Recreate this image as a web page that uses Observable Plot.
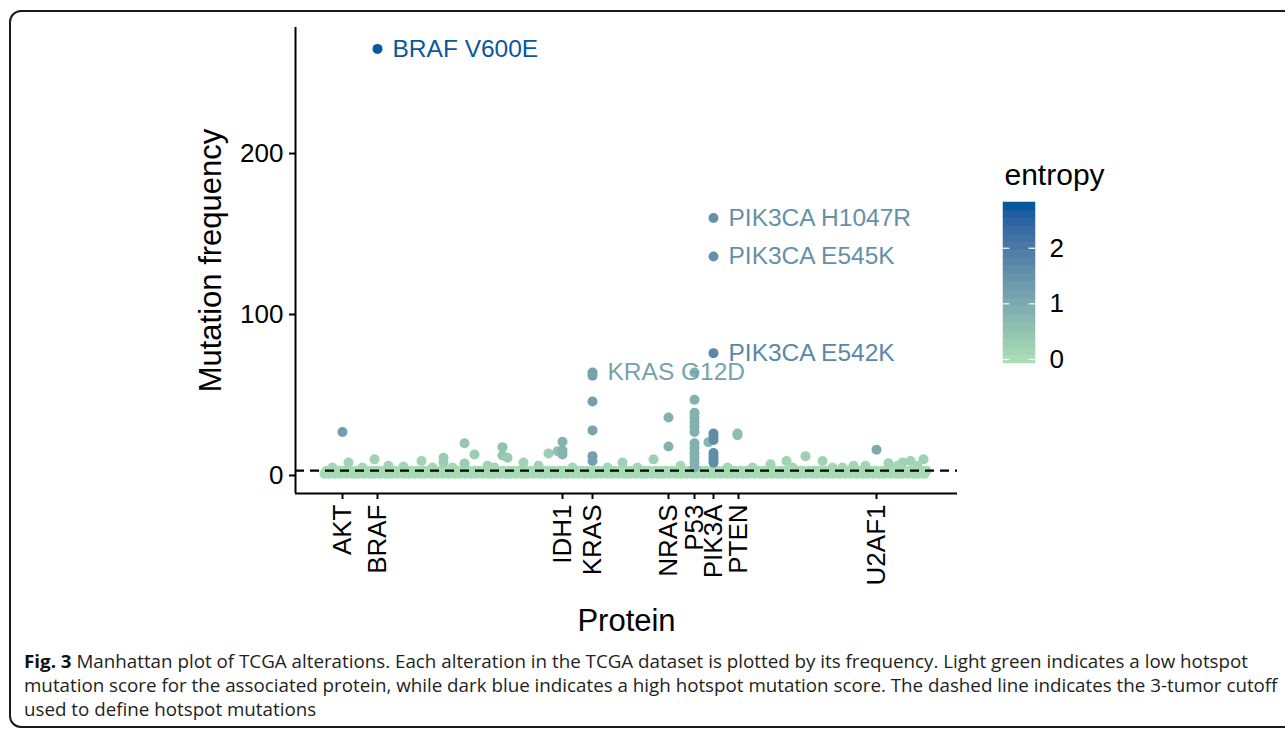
<!DOCTYPE html>
<html><head><meta charset="utf-8">
<script src="https://cdn.jsdelivr.net/npm/d3@7"></script>
<script src="https://cdn.jsdelivr.net/npm/@observablehq/plot@0.6"></script>
<style>
html,body{margin:0;padding:0;background:#fff;overflow:hidden;width:1285px;height:729px}
#wrap{position:relative;width:1285px;height:729px;overflow:hidden}
#frame{position:absolute;left:9px;top:10px;width:1400px;height:714px;border:2px solid #1a1a1a;border-radius:12px}
#chart{position:absolute;left:0;top:0}
#legend{position:absolute;left:990px;top:140px}
#caption{position:absolute;left:24px;top:649px;font-family:"Open Sans",sans-serif;font-size:18px;line-height:24px;color:#231f20;white-space:nowrap;transform-origin:0 0}
#caption b{font-weight:700;color:#111}
</style></head>
<body>
<div id="wrap">
  <div id="frame"></div>
  <div id="chart"></div>
  <div id="legend"></div>
  <div id="caption"><span id="line1"><b>Fig. 3</b> Manhattan plot of TCGA alterations. Each alteration in the TCGA dataset is plotted by its frequency. Light green indicates a low hotspot</span><br>mutation score for the associated protein, while dark blue indicates a high hotspot mutation score. The dashed line indicates the 3-tumor cutoff<br>used to define hotspot mutations</div>
</div>
<script>
// ---------- data ----------
const geneNames = ["AKT","BRAF","IDH1","KRAS","NRAS","P53","PIK3A","PTEN","U2AF1"];
const genePos   = [20, 55, 240, 270, 346, 372, 391, 416, 554];
const yTicks = [0, 100, 200];
const legendTicks = [0, 1, 2];
const cutoff = 3;
const entMin = 0, entMax = 2.75;
const lowColor = "#a8ddb5", highColor = "#08589e";
const xTitle = "Protein", yTitle = "Mutation frequency", legendTitle = "entropy";

// labelled hotspot alterations
const hotspotNames   = ["BRAF V600E","PIK3CA H1047R","PIK3CA E545K","PIK3CA E542K","KRAS G12D"];
const hotspotX       = [55, 391, 391, 391, 270];
const hotspotFreq    = [265, 160, 136, 76, 64];
const hotspotEntropy = [2.75, 1.5, 1.5, 1.7, 1.15];

// other alterations above the baseline band
const altX    = [20, 26, 52, 66, 81, 99, 121, 121, 142, 142, 152, 165, 180, 180, 185, 201, 216, 226,
                 235, 240, 240, 240, 270, 270, 270, 270, 270, 300, 331, 346, 346,
                 372, 372, 372, 372, 372, 372, 372, 372, 372, 372, 372, 372, 372,
                 386, 391, 391, 391, 391, 391, 391, 391, 415, 415,
                 448, 464, 483, 500, 531, 543, 554, 566, 580, 588, 601,
                 10, 40, 110, 130, 172, 250, 285, 315, 358, 405, 430, 470, 510, 520, 575, 595];
const altFreq = [27, 8, 10, 6, 5.5, 9, 11, 8, 20, 7.5, 13, 6, 17.6, 12.4, 11, 8, 6, 13.6,
                 15, 21, 15.5, 13, 62, 46, 28, 12, 9, 8, 10, 36, 18,
                 64, 47, 39, 36, 33, 30, 27, 20, 17, 14, 11, 8, 5,
                 20.7, 26, 24, 22, 14, 12, 10, 8, 26, 25,
                 7, 9, 12, 9, 6, 6, 16, 7.6, 8, 9, 10,
                 5, 5, 5, 5, 5, 5, 5, 5, 6, 5, 5, 5, 5, 5, 6, 6];
const altEntropy = [1.25, 0.2, 0.2, 0.15, 0.15, 0.2, 0.35, 0.3, 0.45, 0.3, 0.3, 0.2, 0.5, 0.45, 0.35, 0.2, 0.2, 0.3,
                 0.55, 0.8, 0.8, 0.8, 1.2, 1.2, 1.1, 1.2, 1.2, 0.2, 0.25, 0.85, 0.85,
                 0.85, 0.85, 0.85, 0.85, 0.85, 0.85, 0.85, 0.85, 0.85, 0.85, 0.85, 0.85, 0.85,
                 0.75, 1.6, 1.6, 1.6, 1.6, 1.6, 1.6, 1.6, 0.6, 0.6,
                 0.15, 0.2, 0.25, 0.2, 0.15, 0.15, 1.0, 0.2, 0.2, 0.2, 0.2,
                 0.1, 0.1, 0.1, 0.1, 0.1, 0.1, 0.1, 0.1, 0.1, 0.1, 0.1, 0.1, 0.1, 0.1, 0.1, 0.1];

// low-frequency alterations forming the baseline band
const band1X = [2,7,13,18,24,30,35,41,47,52,58,64,69,75,81,86,92,98,103,109,115,120,126,132,137,143,149,154,160,166,171,177,183,188,194,200,205,211,217,222,228,234,239,245,251,256,262,268,273,279,285,290,296,302,307,313,319,324,330,336,341,347,353,358,364,370,375,381,387,392,398,404,409,415,421,426,432,438,443,449,455,460,466,472,477,483,489,494,500,506,511,517,523,528,534,540,545,551,557,562,568,574,579,585,591,596,602];
const band1Freq = 1;
const band3X = [4,10,16,21,27,33,38,44,50,55,61,67,72,78,84,89,95,101,106,112,118,123,129,135,140,146,152,157,163,169,174,180,186,191,197,203,208,214,220,225,231,237,242,248,254,259,265,271,276,282,288,293,299,305,310,316,322,327,333,339,344,350,356,361,367,373,378,384,390,395,401,407,412,418,424,429,435,441,446,452,458,463,469,475,480,486,492,497,503,509,514,520,526,531,537,543,548,554,560,565,571,577,582,588,594,599,604];
const band3Freq = 3;
const bandEntropy = 0.05;

// ---------- tables ----------
const bandPts = [
  ...band1X.map(x => ({x, freq: band1Freq, entropy: bandEntropy})),
  ...band3X.map(x => ({x, freq: band3Freq, entropy: bandEntropy}))
];
const altPts = altX.map((x, i) => ({x, freq: altFreq[i], entropy: altEntropy[i]}));
const hotPts = hotspotNames.map((name, i) => ({name, x: hotspotX[i], freq: hotspotFreq[i], entropy: hotspotEntropy[i]}));
const nameByPos = new Map(genePos.map((p, i) => [p, geneNames[i]]));

const xDomain = [-27, 635];
const yDomain = [-11.2, 278.3];
const colorScale = {type: "linear", domain: [entMin, entMax], range: [lowColor, highColor], interpolate: d3.interpolateLab};
const font = "'Liberation Sans', Arial, Helvetica, sans-serif";

const chart = Plot.plot({
  width: 1285, height: 640,
  marginTop: 27, marginLeft: 295, marginRight: 328, marginBottom: 147,
  style: {fontFamily: font, color: "#000", background: "transparent", overflow: "visible"},
  x: {domain: xDomain},
  y: {domain: yDomain},
  color: colorScale,
  marks: [
    Plot.dot(bandPts, {x: "x", y: "freq", fill: "entropy", r: 5, stroke: "none"}),
    Plot.dot(altPts, {x: "x", y: "freq", fill: "entropy", r: 5, stroke: "none"}),
    Plot.dot(hotPts, {x: "x", y: "freq", fill: "entropy", r: 5, stroke: "none"}),
    Plot.text(hotPts, {x: "x", y: "freq", text: "name", fill: "entropy", dx: 15, textAnchor: "start", fontSize: 24.5}),
    Plot.ruleY([cutoff], {stroke: "#000", strokeWidth: 2.2, strokeDasharray: "9,6"}),
    Plot.ruleX([xDomain[0]], {stroke: "#000", strokeWidth: 2}),
    Plot.ruleY([yDomain[0]], {stroke: "#000", strokeWidth: 2}),
    Plot.axisY(yTicks, {tickSize: 6, tickPadding: 6, fontSize: 26, strokeWidth: 2, label: null, color: "#000"}),
    Plot.axisX(genePos, {tickSize: 6, tickPadding: 5, tickRotate: -90, fontSize: 26, strokeWidth: 2, label: null,
      tickFormat: d => nameByPos.get(d), color: "#000"}),
    Plot.text([yTitle], {frameAnchor: "left", dx: -84, rotate: -90, textAnchor: "middle", lineAnchor: "middle", fontSize: 31, text: d => d}),
    Plot.text([xTitle], {frameAnchor: "bottom", dy: 128, textAnchor: "middle", lineAnchor: "middle", fontSize: 31, text: d => d})
  ]
});
document.getElementById("chart").appendChild(chart);

// ---------- colour bar legend ----------
const nbin = 20;
const step = (entMax - entMin) / (nbin - 1);
const bins = d3.range(nbin).map(i => entMin + i * step);
const legend = Plot.plot({
  width: 150, height: 240,
  marginTop: 62, marginBottom: 17, marginLeft: 13, marginRight: 105,
  style: {fontFamily: font, color: "#000", background: "transparent", overflow: "visible"},
  x: {domain: [0, 1], axis: null},
  y: {domain: [entMin - step / 2, entMax + step / 2]},
  color: colorScale,
  marks: [
    Plot.rect(bins, {x1: 0, x2: 1, y1: d => d - step / 2, y2: d => d + step / 2, fill: d => d, stroke: d => d, strokeWidth: 0.5}),
    Plot.ruleY(legendTicks, {x1: 0, x2: 0.2, stroke: "white", strokeWidth: 1.2}),
    Plot.ruleY(legendTicks, {x1: 0.8, x2: 1, stroke: "white", strokeWidth: 1.2}),
    Plot.axisY(legendTicks, {anchor: "right", tickSize: 0, tickPadding: 14, fontSize: 26, label: null, tickFormat: d => String(d)}),
    Plot.text([legendTitle], {frameAnchor: "top-left", dx: 1, dy: -27, textAnchor: "start", lineAnchor: "middle", fontSize: 30, text: d => d})
  ]
});
document.getElementById("legend").appendChild(legend);

// fit caption width to the reference's line length
const cap = document.getElementById("caption");
const w = document.getElementById("line1").getBoundingClientRect().width;
cap.style.transform = `scaleX(${1224 / w})`;
</script>
</body></html>
